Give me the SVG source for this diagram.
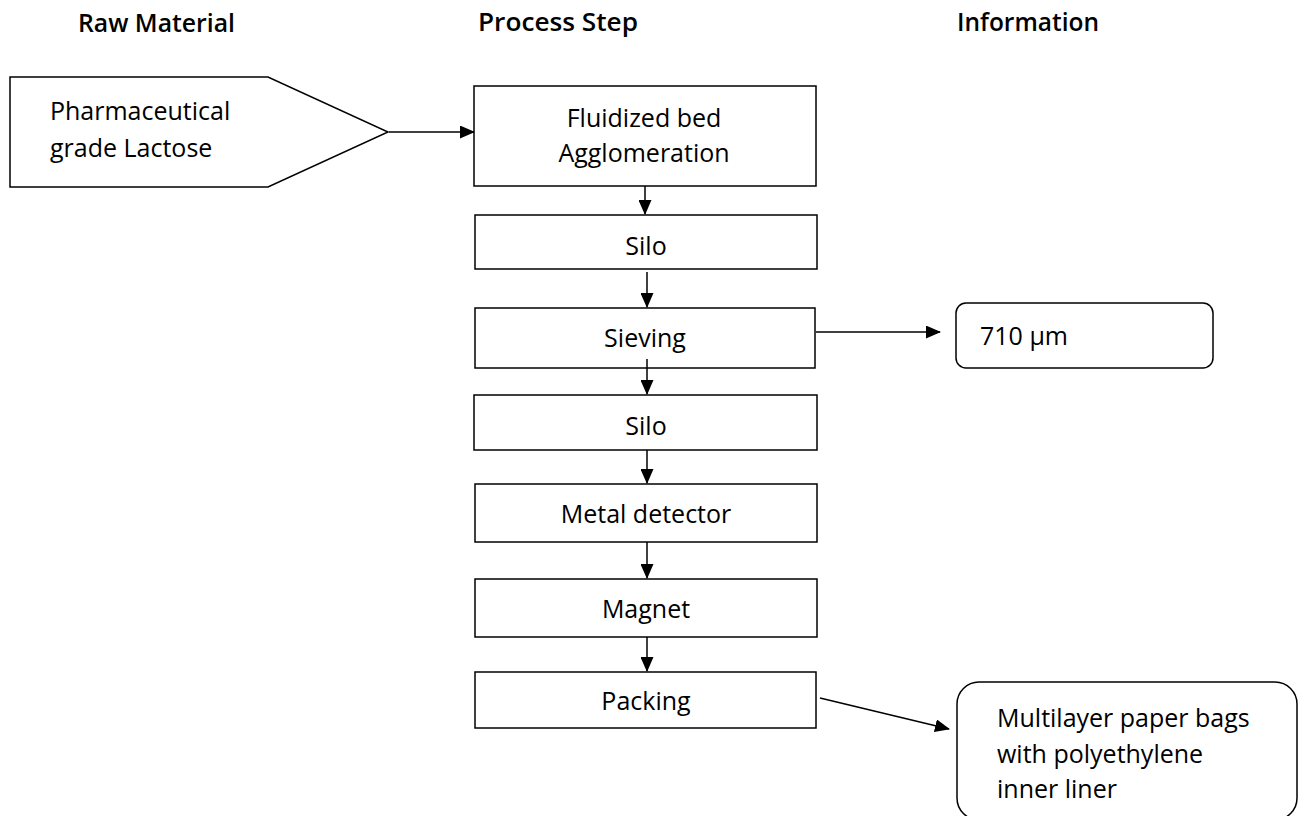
<svg xmlns="http://www.w3.org/2000/svg" width="1303" height="816" viewBox="0 0 1303 816">
<style>
.box{fill:#fff;stroke:#000;stroke-width:1.5}
.t{font-family:"Open Sans","Liberation Sans",sans-serif;font-size:25px;fill:#000}
.c{text-anchor:middle}
.h{font-family:"Open Sans","Liberation Sans",sans-serif;font-size:25px;font-weight:600;fill:#000}
.ln{stroke:#000;stroke-width:1.5;fill:none}
</style>
<defs>
<marker id="ah" markerWidth="15" markerHeight="13" refX="14" refY="6.5" orient="auto" markerUnits="userSpaceOnUse" viewBox="0 0 15 13">
<path d="M0,0 L15,6.5 L0,13 Z" fill="#000"/>
</marker>
</defs>
<rect width="1303" height="816" fill="#fff"/>
<g id="headers">
<text class="h" x="78" y="32" textLength="157" lengthAdjust="spacingAndGlyphs">Raw Material</text>
<text class="h" x="478" y="31" textLength="160" lengthAdjust="spacingAndGlyphs">Process  Step</text>
<text class="h" x="957" y="31" textLength="142" lengthAdjust="spacingAndGlyphs">Information</text>
</g>
<g id="raw">
<polygon class="box" points="10,77 268,77 388,132 268,187 10,187"/>
<text class="t" x="50" y="120">Pharmaceutical</text>
<text class="t" x="50" y="157">grade Lactose</text>
</g>
<g id="fluid">
<rect class="box" x="474" y="86" width="342" height="100"/>
<text class="t c" x="644" y="127">Fluidized bed</text>
<text class="t c" x="644" y="162">Agglomeration</text>
</g>
<g id="silo1">
<rect class="box" x="475" y="215" width="342" height="54"/>
<text class="t c" x="646" y="255">Silo</text>
</g>
<g id="sieving">
<rect class="box" x="475" y="308" width="340" height="60"/>
<text class="t c" x="645" y="347">Sieving</text>
</g>
<g id="silo2">
<rect class="box" x="474" y="395" width="343" height="55"/>
<text class="t c" x="646" y="435">Silo</text>
</g>
<g id="metal">
<rect class="box" x="475" y="484" width="342" height="58"/>
<text class="t c" x="646" y="523">Metal detector</text>
</g>
<g id="magnet">
<rect class="box" x="475" y="579" width="342" height="58"/>
<text class="t c" x="646" y="618">Magnet</text>
</g>
<g id="packing">
<rect class="box" x="475" y="672" width="341" height="56"/>
<text class="t c" x="646" y="710">Packing</text>
</g>
<g id="info1">
<rect class="box" x="956" y="303" width="257" height="65" rx="10"/>
<text class="t" x="980" y="345">710 µm</text>
</g>
<g id="info2">
<rect class="box" x="957" y="682" width="340" height="138" rx="22"/>
<text class="t" x="997" y="727">Multilayer paper bags</text>
<text class="t" x="997" y="763">with polyethylene</text>
<text class="t" x="997" y="798">inner liner</text>
</g>
<g id="connectors">
<line class="ln" x1="389" y1="132" x2="474" y2="132" marker-end="url(#ah)"/>
<line class="ln" x1="645" y1="186" x2="645" y2="214" marker-end="url(#ah)"/>
<line class="ln" x1="647" y1="272" x2="647" y2="307" marker-end="url(#ah)"/>
<line class="ln" x1="647" y1="359" x2="647" y2="394" marker-end="url(#ah)"/>
<line class="ln" x1="647" y1="450" x2="647" y2="483" marker-end="url(#ah)"/>
<line class="ln" x1="647" y1="542" x2="647" y2="578" marker-end="url(#ah)"/>
<line class="ln" x1="647" y1="637" x2="647" y2="671" marker-end="url(#ah)"/>
<line class="ln" x1="816" y1="332" x2="940" y2="332" marker-end="url(#ah)"/>
<line class="ln" x1="820" y1="698" x2="949" y2="729" marker-end="url(#ah)"/>
</g>
</svg>
